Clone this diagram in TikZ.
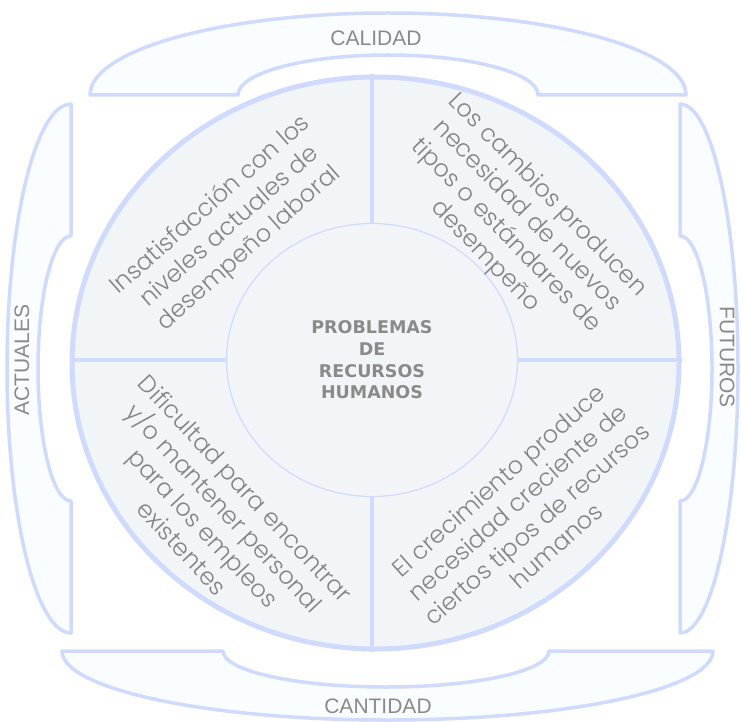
\documentclass[tikz,border=0pt]{standalone}
\usepackage{fontspec}
\setmainfont{Liberation Sans}
\newfontfamily\quadfont{Poppins Light}
\newfontfamily\hubfont{DejaVu Sans}
\usetikzlibrary{shapes.geometric}

\definecolor{rim}{HTML}{D0DAFD}
\definecolor{disc}{HTML}{F2F5F7}
\definecolor{band}{HTML}{FAFDFF}
\definecolor{ink}{HTML}{8A8A8A}
\definecolor{quadink}{HTML}{848484}

\tikzset{
  bracket/.style={draw=rim, line width=3.5pt, fill=band, line join=round},
  divider/.style={draw=rim, line width=4pt},
  quad/.style={font=\quadfont\fontsize{24}{29}\selectfont, text=quadink, align=center, inner sep=0pt},
  sidelabel/.style={font=\fontsize{21}{25}\selectfont, text=ink, inner sep=0pt},
  hubtext/.style={font=\hubfont\bfseries\fontsize{17.5}{21.7}\selectfont, text=ink, align=center},
}

\begin{document}
\begin{tikzpicture}[x=1pt,y=-1pt]
\useasboundingbox (0,0) rectangle (741,722);

% four brackets around the disc
\draw[bracket] (90,95) -- (238,95)
  arc[start angle=180, end angle=0, x radius=150pt, y radius=40pt]
  -- (686,95)
  arc[start angle=0, end angle=180, x radius=298pt, y radius=82pt] -- cycle;
\draw[bracket] (62,651) -- (223,651)
  arc[start angle=180, end angle=360, x radius=163pt, y radius=36pt]
  -- (713,651)
  arc[start angle=0, end angle=-180, x radius=325.5pt, y radius=69pt] -- cycle;
\draw[bracket] (71,104) -- (71,236)
  arc[start angle=90, end angle=270, x radius=33pt, y radius=132.5pt]
  -- (71,633)
  arc[start angle=270, end angle=90, x radius=64pt, y radius=264.5pt] -- cycle;
\draw[bracket] (680,104) -- (680,236)
  arc[start angle=90, end angle=-90, x radius=32pt, y radius=132.5pt]
  -- (680,633)
  arc[start angle=-90, end angle=90, x radius=58pt, y radius=264.5pt] -- cycle;

\node[sidelabel] (calidad) at (376,38) {CALIDAD};
\node[sidelabel] (cantidad) at (378,706) {CANTIDAD};
\node[sidelabel, rotate=90] (actuales) at (22,360) {ACTUALES};
\node[sidelabel, rotate=-90] (futuros) at (727,357) {FUTUROS};

% main disc and central hub
\node[ellipse, draw=rim, line width=5pt, fill=disc, minimum width=607pt,
      minimum height=572pt, inner sep=0pt] (disc) at (375.5,363) {};
\node[ellipse, draw=rim, line width=1.2pt, fill=disc, minimum width=291pt,
      minimum height=273pt, inner sep=0pt, hubtext] (hub) at (372,360)
      {PROBLEMAS\\DE\\RECURSOS\\HUMANOS};

% quadrant dividers
\draw[divider] (hub.north) -- (hub.north |- disc.north);
\draw[divider] (hub.south) -- (hub.south |- disc.south);
\draw[divider] (hub.west) -- (hub.west -| disc.west);
\draw[divider] (hub.east) -- (hub.east -| disc.east);

% quadrant texts
\node[quad, rotate=41.5] (qnw) at (230,227)
  {Insatisfacción con los\\niveles actuales de\\desempeño laboral};
\node[quad, rotate=-45.7] (qne) at (516,226)
  {Los cambios producen\\necesidad de nuevos\\tipos o estándares de\\desempeño};
\node[quad, rotate=-47] (qsw) at (214,518)
  {Dificultad para encontrar\\y/o mantener personal\\para los empleos\\existentes};
\node[quad, rotate=41.5] (qse) at (527,513)
  {El crecimiento produce\\necesidad creciente de\\ciertos tipos de recursos\\humanos};
\end{tikzpicture}
\end{document}
